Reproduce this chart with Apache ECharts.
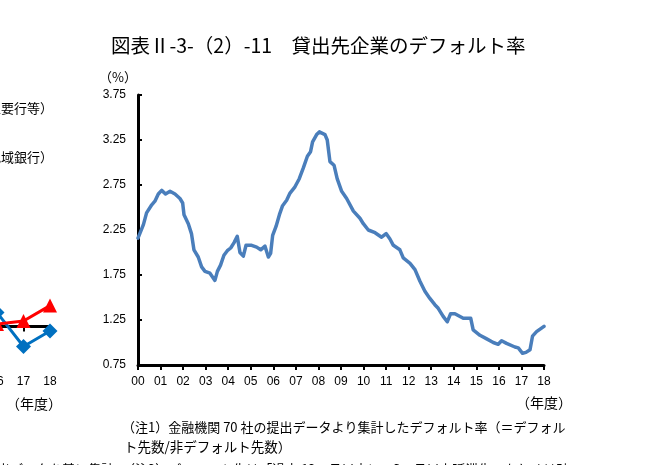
<!DOCTYPE html>
<html>
<head>
<meta charset="utf-8">
<script src="https://cdn.jsdelivr.net/npm/echarts@6/dist/echarts.min.js"></script>
<style>
  html, body { margin: 0; padding: 0; background: #fff; }
  #main { width: 646px; height: 465px; }
</style>
</head>
<body>
<div id="main"></div>
<script>
// 貸出先企業のデフォルト率（年度、月次を目読み）
var years = [0.00, 0.24, 0.38, 0.61, 0.75, 0.90, 1.05, 1.22, 1.42, 1.64, 1.86, 1.98,
  2.04, 2.23, 2.37, 2.48, 2.67, 2.82, 2.97, 3.19, 3.41, 3.52, 3.66, 3.81, 3.96,
  4.11, 4.26, 4.40, 4.52, 4.67, 4.79, 5.04, 5.26, 5.44, 5.63, 5.78, 5.88, 5.97,
  6.12, 6.27, 6.41, 6.59, 6.74, 6.96, 7.15, 7.33, 7.51, 7.65, 7.74, 7.92, 8.04,
  8.29, 8.39, 8.51, 8.69, 8.83, 9.03, 9.25, 9.55, 9.84, 9.99, 10.21, 10.51, 10.80,
  11.00, 11.17, 11.32, 11.61, 11.76, 12.06, 12.28, 12.50, 12.72, 12.94, 13.16,
  13.31, 13.53, 13.71, 13.86, 14.05, 14.42, 14.75, 14.86, 15.16, 15.46, 15.75,
  15.97, 16.12, 16.34, 16.71, 16.86, 17.05, 17.20, 17.38, 17.49, 17.67, 18.00];
var defaultRate = [2.16, 2.31, 2.44, 2.53, 2.57, 2.65, 2.69, 2.65, 2.68, 2.65, 2.60, 2.55,
  2.42, 2.32, 2.21, 2.03, 1.95, 1.84, 1.79, 1.77, 1.69, 1.79, 1.86, 1.97, 2.02,
  2.05, 2.11, 2.18, 2.00, 1.96, 2.08, 2.08, 2.06, 2.03, 2.07, 1.95, 1.99, 2.19,
  2.29, 2.42, 2.52, 2.58, 2.66, 2.73, 2.82, 2.94, 3.07, 3.12, 3.23, 3.31, 3.34,
  3.31, 3.25, 3.01, 2.97, 2.82, 2.68, 2.60, 2.46, 2.38, 2.32, 2.25, 2.22, 2.17,
  2.21, 2.15, 2.08, 2.03, 1.94, 1.88, 1.81, 1.68, 1.57, 1.49, 1.42,
  1.38, 1.29, 1.23, 1.32, 1.32, 1.27, 1.27, 1.14, 1.08, 1.04, 1.00,
  0.98, 1.02, 0.99, 0.95, 0.94, 0.88, 0.89, 0.92, 1.07, 1.12, 1.18];

var xTicks = [0, 1, 2, 3, 4, 5, 6, 7, 8, 9, 10, 11, 12, 13, 14, 15, 16, 17, 18];
var yTicks = [0.75, 1.25, 1.75, 2.25, 2.75, 3.25, 3.75];

// 左隣の図（はみ出し部分）
var leftCats = ['16', '17', '18'];
var leftRed = [0.03, 0.07, 0.27];
var leftBlue = [0.18, -0.26, -0.06];

var numFont = '"Liberation Sans", Arial, sans-serif';
var jpFont = '"Noto Sans CJK JP", sans-serif';

var chart = echarts.init(document.getElementById('main'));

var option = {
  backgroundColor: '#fff',
  animation: false,
  title: {
    text: '図表Ⅱ-3-（2）-11　貸出先企業のデフォルト率',
    left: 106,
    top: 31,
    textStyle: { fontFamily: jpFont, fontSize: 19.5, fontWeight: 'normal', color: '#000' }
  },
  grid: [
    { left: 138, right: 102, top: 95, bottom: 100, outerBoundsMode: 'none' },
    { left: -3, right: 596, top: 95, bottom: 100, outerBoundsMode: 'none' }
  ],
  xAxis: [
    {
      type: 'value',
      gridIndex: 0,
      min: 0,
      max: 18,
      interval: 1,
      axisLine: { onZero: false, lineStyle: { color: '#000', width: 3 } },
      axisTick: { length: 5, lineStyle: { color: '#000', width: 2 }, customValues: xTicks },
      axisLabel: {
        customValues: xTicks,
        margin: 11,
        color: '#000',
        fontFamily: numFont,
        fontSize: 12,
        formatter: function (v) { return (v < 10 ? '0' : '') + v; }
      },
      splitLine: { show: false }
    },
    {
      type: 'category',
      gridIndex: 1,
      data: leftCats,
      boundaryGap: false,
      axisLine: { onZero: true, lineStyle: { color: '#000', width: 3 } },
      axisTick: { length: 5, lineStyle: { color: '#000', width: 2 } },
      axisLabel: { show: false }
    },
    {
      type: 'category',
      gridIndex: 1,
      data: leftCats,
      boundaryGap: false,
      position: 'bottom',
      axisLine: { show: false, onZero: false },
      axisTick: { show: false },
      axisLabel: { margin: 11, color: '#000', fontFamily: numFont, fontSize: 12 }
    }
  ],
  yAxis: [
    {
      type: 'value',
      gridIndex: 0,
      min: 0.75,
      max: 3.75,
      axisLine: { show: true, lineStyle: { color: '#000', width: 3 } },
      axisTick: { show: true, inside: true, length: 4, lineStyle: { color: '#000', width: 2 }, customValues: yTicks },
      axisLabel: {
        customValues: yTicks,
        margin: 12,
        color: '#000',
        fontFamily: numFont,
        fontSize: 12,
        formatter: function (v) { return v.toFixed(2); }
      },
      splitLine: { show: false }
    },
    {
      type: 'value',
      gridIndex: 1,
      min: -0.5,
      max: 3.0,
      show: false
    }
  ],
  series: [
    {
      type: 'line',
      xAxisIndex: 0,
      yAxisIndex: 0,
      data: years.map(function (x, i) { return [x, defaultRate[i]]; }),
      showSymbol: false,
      lineStyle: { color: '#4a7ebb', width: 3.5, join: 'round', cap: 'round' },
      itemStyle: { color: '#4a7ebb' }
    },
    {
      type: 'line',
      xAxisIndex: 1,
      yAxisIndex: 1,
      data: leftBlue,
      symbol: 'diamond',
      symbolSize: 15,
      showSymbol: true,
      showAllSymbol: true,
      lineStyle: { color: '#0070c0', width: 3 },
      itemStyle: { color: '#0070c0' }
    },
    {
      type: 'line',
      xAxisIndex: 1,
      yAxisIndex: 1,
      data: leftRed,
      symbol: 'triangle',
      symbolSize: 14,
      showSymbol: true,
      showAllSymbol: true,
      lineStyle: { color: '#ff0000', width: 3 },
      itemStyle: { color: '#ff0000' }
    }
  ],
  graphic: [
    { type: 'text', left: 99, top: 71, style: { text: '（%）', font: '13px ' + jpFont, fill: '#000' } },
    { type: 'text', left: 516, top: 396, style: { text: '（年度）', font: '14px ' + jpFont, fill: '#000' } },
    { type: 'text', x: 62, y: 404, style: { text: '（年度）', font: '14px ' + jpFont, fill: '#000', align: 'right', verticalAlign: 'middle' } },
    { type: 'text', x: 53, y: 108, style: { text: '（主要行等）', font: '13px ' + jpFont, fill: '#000', align: 'right', verticalAlign: 'middle' } },
    { type: 'text', x: 53, y: 157, style: { text: '（地域銀行）', font: '13px ' + jpFont, fill: '#000', align: 'right', verticalAlign: 'middle' } },
    { type: 'text', x: 122, y: 427, style: { text: '（注1）金融機関 70 社の提出データより集計したデフォルト率（＝デフォル', font: '13px ' + jpFont, fill: '#000', verticalAlign: 'middle' } },
    { type: 'text', x: 124, y: 447, style: { text: 'ト先数/非デフォルト先数）', font: '13.5px ' + jpFont, fill: '#000', verticalAlign: 'middle' } },
    { type: 'text', x: 122, y: 469.5, style: { text: '（注2）デフォルト先は「過去 12ヶ月以内に、3ヶ月以上延滞先、もしくは破', font: '13px ' + jpFont, fill: '#000', verticalAlign: 'middle' } },
    { type: 'text', x: 114, y: 469.5, style: { text: '（注）各行の提出データを基に集計', font: '13px ' + jpFont, fill: '#000', align: 'right', verticalAlign: 'middle' } }
  ]
};

chart.setOption(option);
</script>
</body>
</html>
